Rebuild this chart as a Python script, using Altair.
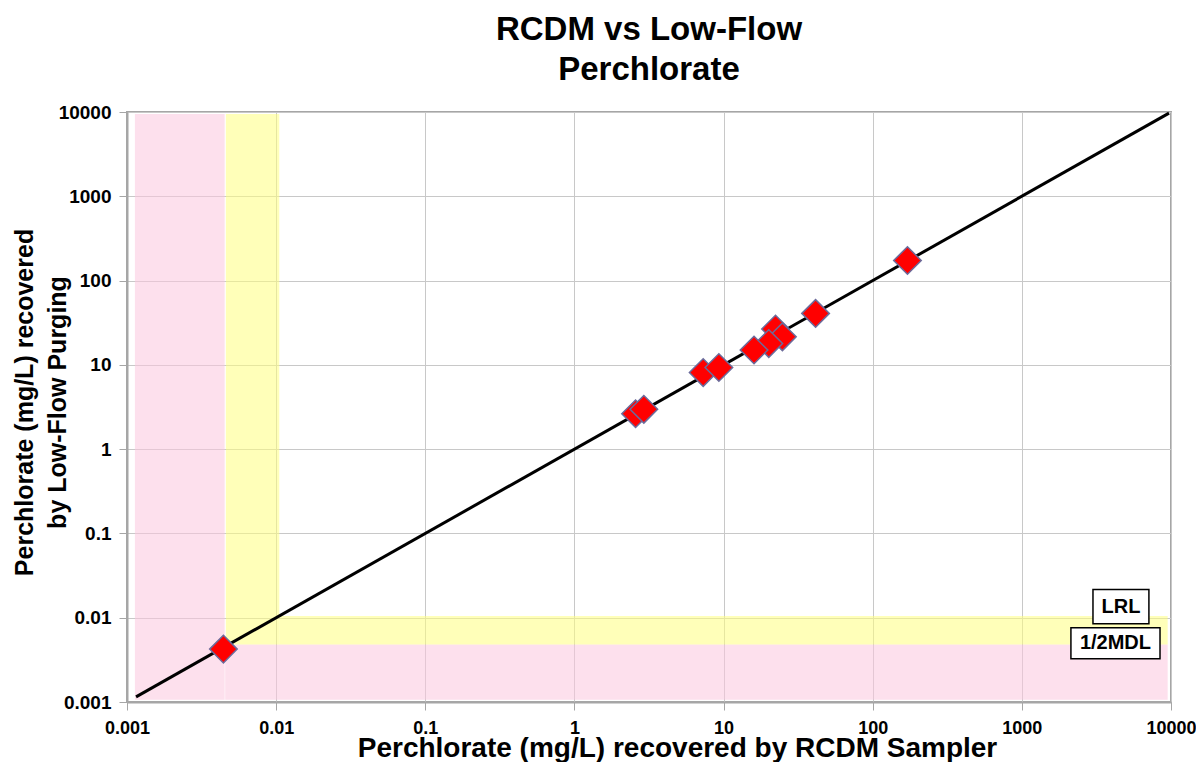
import altair as alt
import pandas as pd

# ---- data ----
rcdm = [171, 41.4, 22.3, 24.8, 20.1, 16.0, 7.3, 9.3, 2.57, 2.92, 0.00443]
lowflow = [173, 40.8, 26.6, 21.5, 17.9, 15.0, 8.1, 9.3, 2.63, 2.97, 0.00424]

# 1:1 reference line end points
line_x = [0.00115, 9700]
line_y = [0.00115, 9700]

# shaded limit regions (x, x2, y, y2, colour key)
zone_x = [0.00113, 0.00455, 0.0046, 0.0105]
zone_x2 = [0.00452, 9500, 0.0105, 9500]
zone_y = [0.00106, 0.00106, 0.0048, 0.0048]
zone_y2 = [9500, 0.0048, 9500, 0.0105]
zone_kind = ["half_mdl", "half_mdl", "lrl", "lrl"]

# annotation boxes
lab_text = ["LRL", "1/2MDL"]
lab_x = [2998, 2133]
lab_x2 = [7110, 8440]
lab_y = [0.0216, 0.0076]
lab_y2 = [0.00849, 0.00325]
lab_cx = [4617, 4243]
lab_cy = [0.01354, 0.00497]

ticks = [0.001, 0.01, 0.1, 1, 10, 100, 1000, 10000]

pts = pd.DataFrame({"rcdm": rcdm, "lowflow": lowflow})
ln = pd.DataFrame({"x": line_x, "y": line_y})
zones = pd.DataFrame({"x": zone_x, "x2": zone_x2, "y": zone_y, "y2": zone_y2, "kind": zone_kind})
labs = pd.DataFrame({"t": lab_text, "x": lab_x, "x2": lab_x2, "y": lab_y, "y2": lab_y2,
                     "cx": lab_cx, "cy": lab_cy})

FONT = "Liberation Sans"
xscale = alt.Scale(type="log", domain=[0.001, 10000], nice=False)
yscale = alt.Scale(type="log", domain=[0.001, 10000], nice=False)

xaxis = alt.Axis(values=ticks, format="~g", grid=True, labelFlush=False, labelOverlap=False,
                 title="Perchlorate (mg/L) recovered by RCDM Sampler",
                 titleX=550, titleY=54, titleBaseline="alphabetic", titleAlign="center",
                 titleFontSize=28, titleFont=FONT, titleFontWeight="bold", titleColor="black",
                 labelFont=FONT, labelFontSize=18, labelFontWeight="bold", labelColor="black",
                 labelPadding=9, tickSize=8)
yaxis = alt.Axis(values=ticks, format="~g", grid=True, labelOverlap=False,
                 title=["Perchlorate (mg/L) recovered", "by Low-Flow Purging"],
                 titleX=-95, titleY=290, titleAngle=270, titleBaseline="alphabetic",
                 titleAlign="center", titleLineHeight=33,
                 titleFontSize=25, titleFont=FONT, titleFontWeight="bold", titleColor="black",
                 labelFont=FONT, labelFontSize=19, labelFontWeight="bold", labelColor="black",
                 labelPadding=8, tickSize=8)

zone_layer = alt.Chart(zones).mark_rect(fillOpacity=0.55, strokeWidth=0).encode(
    x=alt.X("x:Q", scale=xscale, axis=xaxis),
    x2="x2:Q",
    y=alt.Y("y:Q", scale=yscale, axis=yaxis),
    y2="y2:Q",
    color=alt.Color("kind:N", scale=alt.Scale(domain=["half_mdl", "lrl"],
                                              range=["#fbc7df", "#ffff80"]), legend=None),
)

line_layer = alt.Chart(ln).mark_line(color="black", strokeWidth=3).encode(
    x=alt.X("x:Q", scale=xscale), y=alt.Y("y:Q", scale=yscale)
)

pt_layer = alt.Chart(pts).mark_point(shape="diamond", filled=True, size=760, fill="#ff0000",
                                     stroke="#6b6b9b", strokeWidth=1.5, opacity=1).encode(
    x=alt.X("rcdm:Q", scale=xscale), y=alt.Y("lowflow:Q", scale=yscale)
)

box_layer = alt.Chart(labs).mark_rect(fill="white", stroke="black", strokeWidth=1.5).encode(
    x=alt.X("x:Q", scale=xscale), x2="x2:Q", y=alt.Y("y:Q", scale=yscale), y2="y2:Q"
)
txt_layer = alt.Chart(labs).mark_text(font=FONT, fontSize=20, fontWeight="bold", color="black",
                                      align="center", baseline="middle").encode(
    x=alt.X("cx:Q", scale=xscale), y=alt.Y("cy:Q", scale=yscale), text="t:N"
)

chart = alt.layer(zone_layer, line_layer, pt_layer, box_layer, txt_layer).properties(
    width=1044, height=590,
    title=alt.TitleParams(["RCDM vs Low-Flow", "Perchlorate"], font=FONT, fontSize=33,
                          fontWeight="bold", color="black", anchor="middle", lineHeight=40,
                          baseline="bottom", offset=22, dy=39),
    autosize=alt.AutoSizeParams(type="none"),
    padding={"left": 119, "top": 104, "right": 25, "bottom": 60},
).configure_view(stroke="#a6a6a6", strokeWidth=2).configure_axis(
    gridColor="#c8c8c8", gridWidth=1, domainColor="#a6a6a6", domainWidth=2,
    tickColor="#a6a6a6", tickWidth=1
)

chart.save("out.html", embed_options={"renderer": "svg", "actions": False})
